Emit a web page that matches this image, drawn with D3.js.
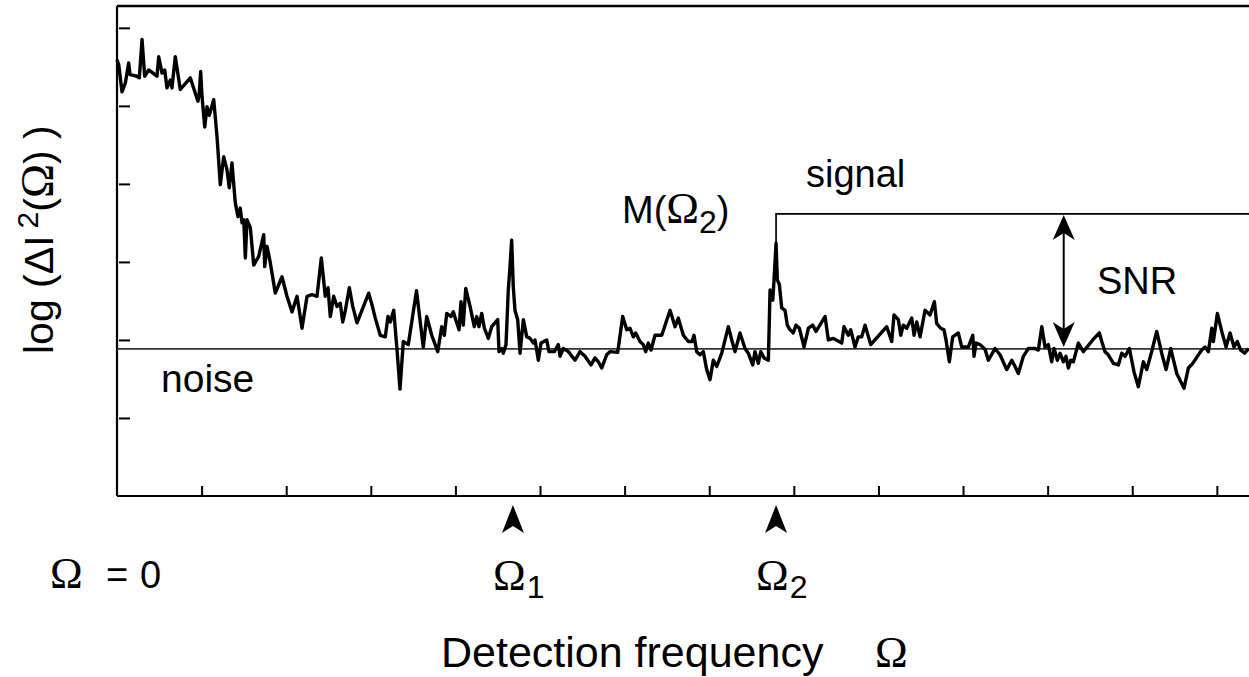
<!DOCTYPE html>
<html>
<head>
<meta charset="utf-8">
<script src="https://cdn.jsdelivr.net/npm/d3@7"></script>
<style>
  html, body { margin: 0; padding: 0; background: #fff; }
  svg { display: block; }
  text { font-family: "Liberation Sans", Arial, Helvetica, sans-serif; fill: #000; }
  .serif { font-family: "Liberation Serif", "Times New Roman", serif; }
</style>
</head>
<body>
<svg id="chart" width="1249" height="677"></svg>
<script>
// ---------------- data ----------------
const freq = [
  0.000,0.020,0.059,0.098,0.138,0.154,0.236,0.264,0.296,0.327,0.375,0.473,0.493,0.532,0.564,0.591,0.630,0.650,0.689,0.748,
  0.866,0.957,0.973,0.989,1.005,1.037,1.064,1.091,1.143,1.182,1.221,1.261,1.300,1.327,1.359,1.398,1.430,1.457,1.478,1.498,
  1.517,1.537,1.576,1.616,1.675,1.734,1.746,1.773,1.812,1.871,1.950,2.009,2.069,2.128,2.187,2.246,2.305,2.364,2.415,2.462,
  2.494,2.521,2.561,2.600,2.639,2.668,2.699,2.746,2.786,2.837,2.975,3.014,3.053,3.112,3.171,3.203,3.230,3.271,3.310,3.345,
  3.384,3.443,3.540,3.620,3.661,3.720,3.791,3.838,3.869,3.897,3.948,3.975,4.004,4.043,4.066,4.093,4.122,4.173,4.223,4.252,
  4.279,4.311,4.342,4.389,4.429,4.500,4.515,4.547,4.566,4.598,4.625,4.645,4.665,4.684,4.704,4.736,4.764,4.803,4.843,4.882,
  4.921,4.941,4.980,5.012,5.079,5.106,5.169,5.216,5.236,5.275,5.335,5.414,5.473,5.532,5.603,5.650,5.689,5.729,5.788,5.827,
  5.918,5.977,6.025,6.064,6.103,6.131,6.182,6.221,6.249,6.280,6.312,6.359,6.439,6.537,6.596,6.635,6.694,6.753,6.797,6.820,
  6.852,6.891,6.930,6.970,7.009,7.048,7.089,7.148,7.226,7.266,7.305,7.364,7.423,7.462,7.514,7.541,7.580,7.609,7.648,7.699,
  7.719,7.751,7.766,7.790,7.805,7.829,7.857,7.896,7.923,7.955,7.994,8.026,8.065,8.121,8.172,8.223,8.262,8.369,8.408,8.467,
  8.566,8.593,8.644,8.673,8.723,8.762,8.803,8.842,8.909,9.098,9.157,9.184,9.235,9.264,9.294,9.334,9.394,9.421,9.453,9.492,
  9.551,9.610,9.661,9.689,9.736,9.775,9.799,9.838,9.878,9.944,9.984,10.063,10.115,10.130,10.154,10.201,10.260,10.299,10.378,10.437,
  10.516,10.576,10.615,10.654,10.713,10.772,10.851,10.890,10.931,10.969,11.008,11.048,11.076,11.115,11.147,11.186,11.217,11.245,11.273,11.304,
  11.363,11.422,11.533,11.611,11.640,11.678,11.717,11.777,11.836,11.876,11.915,11.966,12.021,12.072,12.131,12.171,12.230,12.289,12.348,12.400,
  12.455,12.526,12.612,12.663,12.715,12.770,12.822,12.861,12.900,12.940,12.959,13.006,13.058,13.109,13.156,13.203,13.242,13.282,13.329,13.376
];
const logPower = [
  5.59,5.53,5.18,5.29,5.55,5.40,5.38,5.36,5.85,5.38,5.46,5.38,5.63,5.42,5.46,5.23,5.33,5.23,5.63,5.21,
  5.36,5.06,5.17,5.44,5.12,4.73,4.99,4.88,5.08,4.61,3.99,4.35,4.18,3.95,4.27,3.76,3.58,3.69,3.50,3.54,
  3.05,3.54,3.44,2.96,3.07,3.35,2.94,3.20,2.99,2.60,2.81,2.56,2.36,2.56,2.15,2.56,2.58,2.56,3.05,2.56,
  2.67,2.30,2.56,2.43,2.47,2.23,2.38,2.67,2.43,2.22,2.60,2.45,2.28,2.06,2.04,2.30,2.23,2.38,1.87,1.37,
  1.98,1.94,2.63,1.91,2.30,2.06,1.85,2.17,2.06,2.34,2.30,2.36,2.26,2.13,2.49,2.19,2.66,2.43,2.17,2.30,
  2.17,2.34,2.15,2.02,2.17,2.26,1.85,1.89,1.83,1.94,2.64,2.94,3.28,2.68,2.38,2.26,1.83,2.26,2.04,2.02,
  1.96,2.00,1.74,1.96,2.00,1.85,1.85,1.94,1.79,1.89,1.85,1.74,1.85,1.79,1.68,1.77,1.72,1.64,1.81,1.85,
  1.84,2.30,2.13,2.15,2.04,2.09,1.98,1.94,1.85,1.96,1.87,2.06,2.06,2.38,2.17,2.28,2.06,1.98,1.98,2.06,
  1.85,1.81,1.85,1.62,1.49,1.74,1.66,1.83,2.17,2.00,1.85,2.09,1.89,1.83,1.68,1.85,1.70,1.85,1.77,1.74,
  2.64,2.51,2.77,3.24,2.77,2.71,2.41,2.38,2.19,2.13,2.09,2.19,2.15,1.91,2.15,2.19,2.11,2.30,2.00,2.02,
  1.96,2.17,2.06,2.13,1.91,2.04,2.04,2.19,1.94,2.17,1.98,2.32,2.26,2.06,2.19,2.15,2.28,2.06,2.23,2.04,
  2.38,2.32,2.49,2.21,2.15,2.13,2.00,1.72,2.04,2.09,1.91,1.91,2.06,1.79,1.96,1.94,1.88,1.74,1.89,1.81,
  1.62,1.74,1.66,1.57,1.79,1.89,1.89,1.87,2.17,1.91,1.94,1.72,1.89,1.74,1.83,1.72,1.79,1.64,1.74,1.72,
  1.96,1.85,2.00,2.09,1.98,1.85,1.81,1.70,1.68,1.83,1.79,1.89,1.59,1.40,1.72,1.62,1.85,2.11,1.83,1.62,
  1.89,1.57,1.38,1.64,1.70,1.79,1.87,1.91,1.85,2.15,1.98,2.34,2.11,1.91,2.09,1.91,1.98,1.87,1.83,1.89
];
const xTicks = [1,2,3,4,5,6,7,8,9,10,11,12,13];
const yTicks = [1,2,3,4,5,6];
const noiseLevel = 1.885;
const signalLevel = 3.615;
const omega1 = 4.68;
const omega2 = 7.79;
const snrFreq = 11.19;
const xMax = 13.38;
const yMax = 6.28;

(function () {
// ---------------- layout ----------------
const svg = d3.select("#chart");
const mLeft = 117, mRight = 1249, mTop = 6, mBottom = 496;
const x = d3.scaleLinear().domain([0, xMax]).range([mLeft, mRight]);
const y = d3.scaleLinear().domain([0, yMax]).range([mBottom, mTop]);

// frame: top line
svg.append("line")
  .attr("x1", mLeft).attr("x2", mRight).attr("y1", y(yMax)).attr("y2", y(yMax))
  .attr("stroke", "#000").attr("stroke-width", 2.5);

// x axis (ticks pointing up)
const xAxis = d3.axisBottom(x).tickValues(xTicks).tickSize(-10).tickFormat("");
const gx = svg.append("g").attr("transform", `translate(0,${mBottom})`).call(xAxis);
gx.select(".domain").attr("stroke-width", 2.2).attr("d", `M${mLeft},0H${mRight}`);
gx.selectAll(".tick line").attr("stroke-width", 2);

// y axis (ticks pointing right, inward)
const yAxis = d3.axisLeft(y).tickValues(yTicks).tickSize(-13).tickFormat("");
const gy = svg.append("g").attr("transform", `translate(${mLeft},0)`).call(yAxis);
gy.select(".domain").attr("stroke-width", 2.2).attr("d", `M0,${mTop}V${mBottom}`);
gy.selectAll(".tick line").attr("stroke-width", 2).attr("x1", 2);

// noise level line
svg.append("line")
  .attr("x1", mLeft).attr("x2", mRight)
  .attr("y1", y(noiseLevel)).attr("y2", y(noiseLevel))
  .attr("stroke", "#333").attr("stroke-width", 1.8);

// spectrum
const data = freq.map((f, i) => ({ f, v: logPower[i] }));
const line = d3.line().x(d => x(d.f)).y(d => y(d.v));
svg.append("path").datum(data)
  .attr("d", line)
  .attr("fill", "none").attr("stroke", "#000")
  .attr("stroke-width", 3.4).attr("stroke-linejoin", "round");

// signal bracket
const peak = d3.max(data.filter(d => Math.abs(d.f - omega2) < 0.05), d => d.v);
svg.append("path")
  .attr("d", `M${x(omega2)},${y(peak)}V${y(signalLevel)}H${mRight}`)
  .attr("fill", "none").attr("stroke", "#000").attr("stroke-width", 1.7);

// SNR double arrow
function arrowHead(tipX, tipY, dir, len, halfW) {
  // dir = +1 pointing down, -1 pointing up
  const by = tipY - dir * len;
  const ny = tipY - dir * (len - 7);
  return `M${tipX},${tipY}L${tipX - halfW},${by}L${tipX},${ny}L${tipX + halfW},${by}Z`;
}
const sx = x(snrFreq);
svg.append("line")
  .attr("x1", sx).attr("x2", sx)
  .attr("y1", y(signalLevel) + 10).attr("y2", y(noiseLevel) - 10)
  .attr("stroke", "#000").attr("stroke-width", 2);
svg.append("path").attr("d", arrowHead(sx, y(signalLevel) + 1, -1, 25, 11)).attr("fill", "#000");
svg.append("path").attr("d", arrowHead(sx, y(noiseLevel) - 2, 1, 25, 11)).attr("fill", "#000");

// Ω1, Ω2 markers under the axis
[omega1, omega2].forEach(o => {
  svg.append("path").attr("d", arrowHead(x(o), mBottom + 9, -1, 28, 11)).attr("fill", "#000");
});

// ---------------- text ----------------
const fs = 38, om = 44;
// y-axis title
const yt = svg.append("text")
  .attr("transform", "translate(53,354) rotate(-90)")
  .attr("font-size", 41);
yt.append("tspan").text("log (ΔI");
yt.append("tspan").attr("dx", 7).attr("dy", -15).attr("font-size", 30).text("2");
yt.append("tspan").attr("dy", 15).text("(");
yt.append("tspan").attr("class", "serif").attr("font-size", 46).text("Ω");
yt.append("tspan").text(") )");

// noise / signal / SNR / M(Ω2)
svg.append("text").attr("x", 161).attr("y", 392).attr("font-size", 39).text("noise");
svg.append("text").attr("x", 806).attr("y", 187).attr("font-size", fs).text("signal");
svg.append("text").attr("x", 1097).attr("y", 294).attr("font-size", fs).text("SNR");
const mt = svg.append("text").attr("x", 622).attr("y", 223).attr("font-size", fs);
mt.append("tspan").text("M(");
mt.append("tspan").attr("class", "serif").attr("font-size", om).text("Ω");
mt.append("tspan").attr("dy", 10).attr("font-size", 32).text("2");
mt.append("tspan").attr("dy", -10).text(")");

// Ω = 0, Ω1, Ω2
const z0 = svg.append("text").attr("y", 588).attr("font-size", fs);
z0.append("tspan").attr("x", 50).attr("class", "serif").attr("font-size", om).text("Ω");
z0.append("tspan").attr("x", 106).text("=");
z0.append("tspan").attr("x", 140).text("0");

function omegaLabel(o, sub) {
  const t = svg.append("text").attr("x", x(o) - 20).attr("y", 590).attr("font-size", fs);
  t.append("tspan").attr("class", "serif").attr("font-size", om).text("Ω");
  t.append("tspan").attr("dx", 1).attr("dy", 8).attr("font-size", 32).text(sub);
}
omegaLabel(omega1, "1");
omegaLabel(omega2, "2");

// x-axis title
svg.append("text").attr("x", 441).attr("y", 667).attr("font-size", 43).text("Detection frequency");
svg.append("text").attr("class", "serif").attr("x", 875).attr("y", 667).attr("font-size", om).text("Ω");
})();
</script>
</body>
</html>
